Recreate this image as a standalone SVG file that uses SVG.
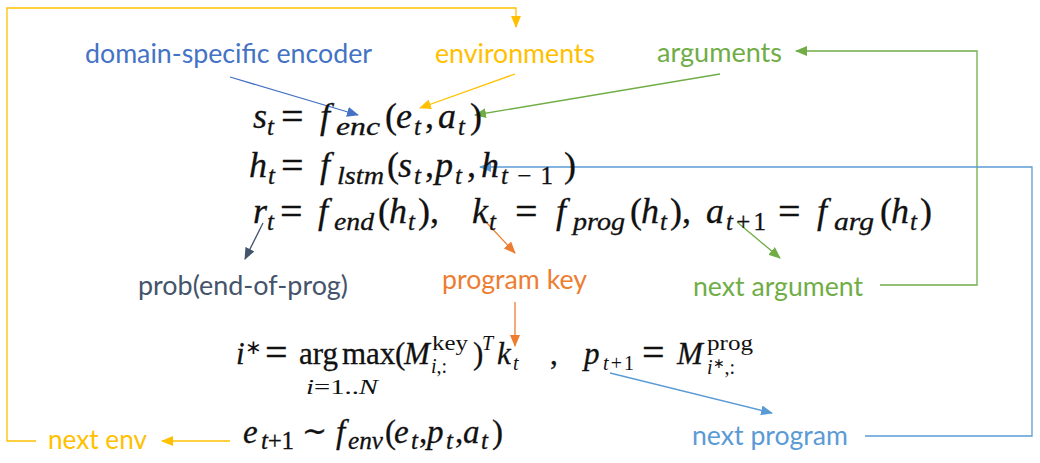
<svg xmlns="http://www.w3.org/2000/svg" width="1040" height="463" viewBox="0 0 1040 463">
<style>
.lbl{font-family:Lato,"Liberation Sans",sans-serif;font-size:26px}
.eq{font-family:"Liberation Serif",serif;font-style:italic;font-size:36px;fill:#111;stroke:#111;stroke-width:0.3}
.e4{font-size:31px}
.e5{font-size:33px}
.up{font-style:normal}
.eqs{font-style:normal;font-size:40px}
.sb{font-size:25px}
.ss{font-size:20px;stroke-width:0}
.cn{fill:none;stroke-width:1.3}
</style>
<defs>
<marker id="aY" markerUnits="userSpaceOnUse" markerWidth="12" markerHeight="10" refX="11" refY="5" orient="auto"><path d="M0,0 L12,5 L0,10 Z" fill="#FFC000"/></marker>
<marker id="aB" markerUnits="userSpaceOnUse" markerWidth="12" markerHeight="10" refX="11" refY="5" orient="auto"><path d="M0,0 L12,5 L0,10 Z" fill="#4472C4"/></marker>
<marker id="aG" markerUnits="userSpaceOnUse" markerWidth="12" markerHeight="10" refX="11" refY="5" orient="auto"><path d="M0,0 L12,5 L0,10 Z" fill="#70AD47"/></marker>
<marker id="aO" markerUnits="userSpaceOnUse" markerWidth="12" markerHeight="10" refX="11" refY="5" orient="auto"><path d="M0,0 L12,5 L0,10 Z" fill="#ED7D31"/></marker>
<marker id="aD" markerUnits="userSpaceOnUse" markerWidth="12" markerHeight="10" refX="11" refY="5" orient="auto"><path d="M0,0 L12,5 L0,10 Z" fill="#44546A"/></marker>
<marker id="aL" markerUnits="userSpaceOnUse" markerWidth="12" markerHeight="10" refX="11" refY="5" orient="auto"><path d="M0,0 L12,5 L0,10 Z" fill="#5B9BD5"/></marker>
</defs>
<rect width="1040" height="463" fill="#fff"/>

<g id="connectors">
<path class="cn" stroke="#FFC000" d="M36,441 L7,441 L7,8 L516,8 L516,27" marker-end="url(#aY)"/>
<path class="cn" stroke="#FFC000" d="M230,441 L162,441" marker-end="url(#aY)"/>
<path class="cn" stroke="#FFC000" d="M515,74 L420,108" marker-end="url(#aY)"/>
<path class="cn" stroke="#4472C4" d="M230,77 L358,115" marker-end="url(#aB)"/>
<path class="cn" stroke="#70AD47" d="M720,74 L475,115" marker-end="url(#aG)"/>
<path class="cn" stroke="#70AD47" d="M880,285 L977,285 L977,51 L796,51" marker-end="url(#aG)"/>
<path class="cn" stroke="#70AD47" d="M737,222 L780,258" marker-end="url(#aG)"/>
<path class="cn" stroke="#ED7D31" d="M486,222 L515,253" marker-end="url(#aO)"/>
<path class="cn" stroke="#ED7D31" d="M515,302 L515,346" marker-end="url(#aO)"/>
<path class="cn" stroke="#44546A" d="M263,223 L245,259" marker-end="url(#aD)"/>
<path class="cn" stroke="#5B9BD5" d="M865,436 L1032,436 L1032,167 L480,167" marker-end="url(#aL)"/>
<path class="cn" stroke="#5B9BD5" d="M610,373 L772,413" marker-end="url(#aL)"/>
</g>

<g id="label-encoder"><text class="lbl" x="85" y="63" fill="#4472C4" textLength="287" lengthAdjust="spacingAndGlyphs">domain-specific encoder</text></g>
<g id="label-environments"><text class="lbl" x="435" y="63" fill="#FFC000" textLength="160" lengthAdjust="spacingAndGlyphs">environments</text></g>
<g id="label-arguments"><text class="lbl" x="657" y="62" fill="#70AD47" textLength="125" lengthAdjust="spacingAndGlyphs">arguments</text></g>
<g id="label-prob"><text class="lbl" x="138" y="295" fill="#44546A" textLength="210" lengthAdjust="spacingAndGlyphs">prob(end-of-prog)</text></g>
<g id="label-program-key"><text class="lbl" x="442" y="289" fill="#ED7D31" textLength="145" lengthAdjust="spacingAndGlyphs">program key</text></g>
<g id="label-next-argument"><text class="lbl" x="693" y="296" fill="#70AD47" textLength="170" lengthAdjust="spacingAndGlyphs">next argument</text></g>
<g id="label-next-env"><text class="lbl" x="48" y="449" fill="#FFC000" textLength="99" lengthAdjust="spacingAndGlyphs">next env</text></g>
<g id="label-next-program"><text class="lbl" x="692" y="445" fill="#5B9BD5" textLength="156" lengthAdjust="spacingAndGlyphs">next program</text></g>

<g id="eq-encoder">
<text class="eq">
<tspan x="253" y="128">s</tspan><tspan class="sb" x="267" y="135">t</tspan>
<tspan class="eqs" x="281" y="130">=</tspan>
<tspan x="320" y="128">f</tspan><tspan class="sb" x="336" y="135" textLength="44" lengthAdjust="spacingAndGlyphs">enc</tspan>
<tspan class="up" x="385" y="128">(</tspan>
<tspan x="396" y="128">e</tspan><tspan class="sb" x="414" y="135">t</tspan>
<tspan class="up" x="425" y="128">,</tspan>
<tspan x="438" y="128">a</tspan><tspan class="sb" x="458" y="135">t</tspan>
<tspan class="up" x="470" y="128">)</tspan>
</text>
</g>

<g id="eq-lstm">
<text class="eq">
<tspan x="249" y="177">h</tspan><tspan class="sb" x="268" y="184">t</tspan>
<tspan class="eqs" x="281" y="179">=</tspan>
<tspan x="320" y="177">f</tspan><tspan class="sb" x="337" y="184" textLength="47" lengthAdjust="spacingAndGlyphs">lstm</tspan>
<tspan class="up" x="387" y="177">(</tspan>
<tspan x="398" y="177">s</tspan><tspan class="sb" x="414" y="184">t</tspan>
<tspan class="up" x="425" y="177">,</tspan>
<tspan x="435" y="177">p</tspan><tspan class="sb" x="455" y="184">t</tspan>
<tspan class="up" x="467" y="177">,</tspan>
<tspan x="481" y="177">h</tspan><tspan class="sb" x="501" y="184" textLength="52">t<tspan class="up">−1</tspan></tspan>
<tspan class="up" x="564" y="177">)</tspan>
</text>
</g>

<g id="eq-heads">
<text class="eq">
<tspan x="253" y="223">r</tspan><tspan class="sb" x="267" y="230">t</tspan>
<tspan class="eqs" x="280" y="225">=</tspan>
<tspan x="318" y="223">f</tspan><tspan class="sb" x="334" y="230" textLength="40" lengthAdjust="spacingAndGlyphs">end</tspan>
<tspan class="up" x="378" y="223">(</tspan>
<tspan x="389" y="223">h</tspan><tspan class="sb" x="408" y="230">t</tspan>
<tspan class="up" x="418" y="223">),</tspan>
<tspan x="472" y="223">k</tspan><tspan class="sb" x="489" y="230">t</tspan>
<tspan class="eqs" x="515" y="225">=</tspan>
<tspan x="556" y="223">f</tspan><tspan class="sb" x="573" y="230" textLength="52" lengthAdjust="spacingAndGlyphs">prog</tspan>
<tspan class="up" x="630" y="223">(</tspan>
<tspan x="641" y="223">h</tspan><tspan class="sb" x="660" y="230">t</tspan>
<tspan class="up" x="670" y="223">),</tspan>
<tspan x="706" y="223">a</tspan><tspan class="sb" x="726" y="230" textLength="40">t<tspan class="up">+1</tspan></tspan>
<tspan class="eqs" x="778" y="225">=</tspan>
<tspan x="817" y="223">f</tspan><tspan class="sb" x="834" y="230" textLength="40" lengthAdjust="spacingAndGlyphs">arg</tspan>
<tspan class="up" x="880" y="223">(</tspan>
<tspan x="891" y="223">h</tspan><tspan class="sb" x="910" y="230">t</tspan>
<tspan class="up" x="920" y="223">)</tspan>
</text>
</g>

<g id="eq-lookup">
<text class="eq e4">
<tspan x="236" y="364">i<tspan class="ss up" baseline-shift="10">∗</tspan></tspan>
<tspan class="eqs" x="265" y="366">=</tspan>
<tspan class="up" x="299" y="364">arg</tspan>
<tspan class="up" x="342" y="364">max</tspan>
<tspan class="up" x="395" y="364">(</tspan>
<tspan x="404" y="364">M</tspan><tspan class="ss up" x="432" y="350" textLength="36" lengthAdjust="spacingAndGlyphs">key</tspan><tspan class="ss" x="431" y="373">i<tspan class="up">,:</tspan></tspan>
<tspan class="up" x="473" y="364">)</tspan><tspan class="ss" x="482" y="350">T</tspan>
<tspan x="497" y="364">k</tspan><tspan class="ss" x="513" y="370">t</tspan>
<tspan class="up" x="550" y="364">,</tspan>
<tspan x="584" y="364">p</tspan><tspan class="ss" x="603" y="370" textLength="31">t<tspan class="up">+1</tspan></tspan>
<tspan class="eqs" x="642" y="366">=</tspan>
<tspan x="677" y="364">M</tspan><tspan class="ss up" x="707" y="350" textLength="46" lengthAdjust="spacingAndGlyphs">prog</tspan><tspan class="ss" x="707" y="374">i<tspan class="up" style="font-size:14px" baseline-shift="6">∗</tspan><tspan class="up">,:</tspan></tspan>
</text>
<text class="eq ss" x="306" y="394" textLength="72" lengthAdjust="spacingAndGlyphs">i<tspan class="up">=1..</tspan>N</text>
</g>

<g id="eq-env">
<text class="eq e5">
<tspan x="243" y="443">e</tspan><tspan class="sb" x="261" y="449" textLength="33">t<tspan class="up">+1</tspan></tspan>
<tspan class="up" x="302" y="441" style="font-family:'DejaVu Serif',serif;font-size:30px">∼</tspan>
<tspan x="336" y="443">f</tspan><tspan class="sb" x="348" y="449" textLength="35" lengthAdjust="spacingAndGlyphs">env</tspan>
<tspan class="up" x="385" y="443">(</tspan>
<tspan x="394" y="443">e</tspan><tspan class="sb" x="411" y="449">t</tspan>
<tspan class="up" x="419" y="443">,</tspan>
<tspan x="427" y="443">p</tspan><tspan class="sb" x="446" y="449">t</tspan>
<tspan class="up" x="455" y="443">,</tspan>
<tspan x="463" y="443">a</tspan><tspan class="sb" x="481" y="449">t</tspan>
<tspan class="up" x="492" y="443">)</tspan>
</text>
</g>
</svg>
